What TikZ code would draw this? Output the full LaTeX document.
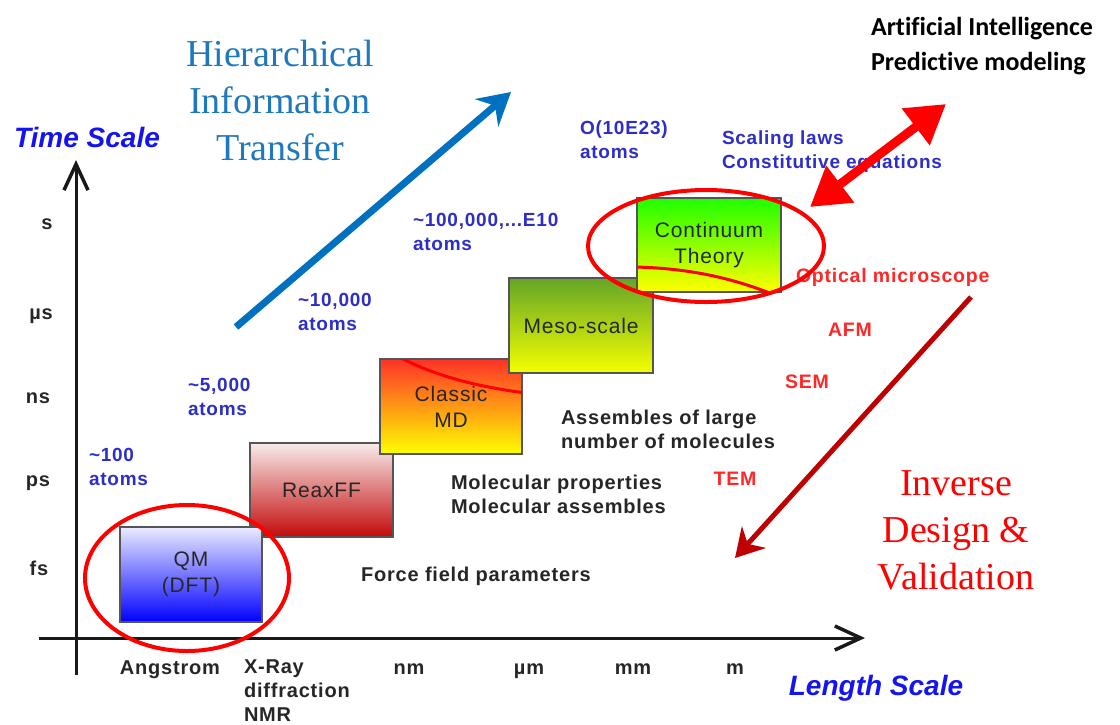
\documentclass[tikz,border=0pt]{standalone}
\usepackage{fontspec}
\setmainfont{Liberation Serif}
\setsansfont{Liberation Sans}
\newfontfamily\calibrifont[Ligatures=NoCommon]{Carlito}
\usetikzlibrary{arrows.meta}

\definecolor{atomblue}{RGB}{45,45,200}
\definecolor{axisblue}{RGB}{20,20,240}
\definecolor{flowblue}{RGB}{0,112,192}
\definecolor{titleblue}{RGB}{30,120,190}
\definecolor{lblred}{RGB}{255,40,40}
\definecolor{darkred}{RGB}{192,0,0}
\definecolor{markred}{RGB}{255,0,0}
\definecolor{boxedge}{RGB}{85,85,85}

\newcommand{\labelfont}[1]{\sffamily\bfseries\fontsize{#1}{24}\selectfont\addfontfeatures{LetterSpace=4}}

\begin{document}
\begin{tikzpicture}[x=1pt,y=-1pt,
  every node/.style={inner sep=0pt,outer sep=0pt},
  axisline/.style={line width=3pt,black!90,-{Straight Barb[length=26pt,width=24pt,line width=3.5pt]}},
  ticklbl/.style={font=\labelfont{20},text=black!85},
  tick/.style={ticklbl,text height=14.5pt,text depth=0pt},
  atoms/.style={font=\labelfont{19},text=atomblue,align=left,anchor=west},
  notes/.style={font=\labelfont{20},text=black!85,align=left,anchor=west},
  probe/.style={font=\labelfont{19.5},text=lblred},
  axistitle/.style={font=\sffamily\bfseries\itshape\fontsize{28}{30}\selectfont,text=axisblue},
  bigserif/.style={font=\fontsize{38}{47}\selectfont,align=center},
  scalebox/.style={draw=boxedge,line width=1.5pt,anchor=north west,
    font=\sffamily\fontsize{21}{26}\selectfont\addfontfeatures{LetterSpace=4},text=black!85,align=center},
  ring/.style={draw=markred,line width=4pt},
  arcline/.style={draw=markred,line width=3pt}]

\useasboundingbox (0,0) rectangle (1120,724);

% axes
\coordinate (ybase) at (76,675);
\coordinate (ytip) at (76,160);
\coordinate (xbase) at (39,638);
\coordinate (xtip) at (865,638);
\draw[axisline] (ybase) -- (ytip);
\draw[axisline] (xbase) -- (xtip);

\node[axistitle] (tscale) at (87,137) {Time Scale};
\node[axistitle] (lscale) at (876,688) {Length Scale};

% time ticks
\node[tick] (ts) at (47,222) {s};
\node[tick] (tus) at (41,312) {µs};
\node[tick] (tns) at (38,396) {ns};
\node[tick] (tps) at (38,479) {ps};
\node[tick] (tfs) at (39,568) {fs};

% length ticks
\node[tick] (lang) at (170,667) {Angstrom};
\node[ticklbl,align=left,anchor=west] (lxray) at (244,691) {X-Ray\\diffraction\\NMR};
\node[tick] (lnm) at (409,667) {nm};
\node[tick] (lum) at (529,667) {µm};
\node[tick] (lmm) at (633,667) {mm};
\node[tick] (lm) at (735,667) {m};

% simulation scale boxes
\node[scalebox,minimum width=143pt,minimum height=94pt,
  top color={rgb,255:red,248;green,235;blue,235},bottom color={rgb,255:red,195;green,10;blue,10}]
  (reax) at (250,443) {ReaxFF};
\node[scalebox,minimum width=142pt,minimum height=95pt,
  top color={rgb,255:red,235;green,235;blue,255},bottom color={rgb,255:red,0;green,0;blue,255}]
  (qm) at (120,527) {QM\\(DFT)};
\node[scalebox,minimum width=142pt,minimum height=95pt,
  top color={rgb,255:red,255;green,50;blue,40},bottom color={rgb,255:red,255;green,255;blue,0}]
  (md) at (380,359) {Classic\\MD};
\begin{scope}
  \clip (md.north west) rectangle (md.south east);
  \draw[arcline] (396,355) .. controls (425,372) and (470,386) .. (526,393);
\end{scope}
\node[scalebox,minimum width=144pt,minimum height=95pt,
  top color={rgb,255:red,100;green,165;blue,40},bottom color={rgb,255:red,245;green,255;blue,0}]
  (meso) at (509,278) {Meso-scale};
\node[scalebox,minimum width=144pt,minimum height=94pt,
  top color={rgb,255:red,30;green,255;blue,0},bottom color={rgb,255:red,255;green,255;blue,0}]
  (cont) at (637,198) {Continuum\\Theory};
\begin{scope}
  \clip (cont.north west) rectangle (cont.south east);
  \draw[arcline] (634,267) .. controls (690,268) and (735,279) .. (772,294);
\end{scope}

% atom counts
\node[atoms] (a100) at (89,467) {\textasciitilde100\\atoms};
\node[atoms] (a5k) at (188,397) {\textasciitilde5,000\\atoms};
\node[atoms] (a10k) at (298,312) {\textasciitilde10,000\\atoms};
\node[atoms] (a1e5) at (413,232) {\textasciitilde100,000,...E10\\atoms};
\node[atoms] (a1e23) at (580,140) {O(10E23)\\atoms};
\node[atoms] (laws) at (722,152) {Scaling laws\\Constitutive equations};

% descriptions
\node[notes] (ffp) at (361,576) {Force field parameters};
\node[notes] (molp) at (451,494) {Molecular properties\\Molecular assembles};
\node[notes] (asm) at (561,429) {Assembles of large\\number of molecules};

% experimental probes
\node[probe,anchor=west] (optic) at (796,277) {Optical microscope};
\node[probe] (afm) at (850,330) {AFM};
\node[probe] (sem) at (807,382) {SEM};
\node[probe] (tem) at (735,479) {TEM};

% highlight rings
\draw[ring] (187,578) ellipse [x radius=102, y radius=73];
\draw[ring] (706,246) ellipse [x radius=118, y radius=56];

% information flow
\node[bigserif,text=titleblue] (hier) at (280,100) {Hierarchical\\Information\\Transfer};
\coordinate (upstart) at (236,327);
\coordinate (upend) at (511,92);
\draw[flowblue,line width=7pt,-{Stealth[length=32pt,width=36pt,inset=11pt]}] (upstart) -- (upend);

\node[bigserif,text=markred] (inv) at (956,530) {Inverse\\Design \&\\Validation};
\coordinate (downstart) at (971,297);
\coordinate (downend) at (735,558);
\draw[darkred,line width=5pt,-{Stealth[length=28pt,width=32pt,inset=9pt]}] (downstart) -- (downend);

\node[font=\calibrifont\bfseries\fontsize{26}{35}\selectfont,align=left,anchor=west] (ai) at (871,46)
  {Artificial Intelligence\\Predictive modeling};
\coordinate (aiend) at (946,104);
\coordinate (contend) at (810,207);
\draw[markred,line width=9pt,{Triangle[length=38pt,width=44pt]}-{Triangle[length=38pt,width=44pt]}] (contend) -- (aiend);

\end{tikzpicture}
\end{document}
